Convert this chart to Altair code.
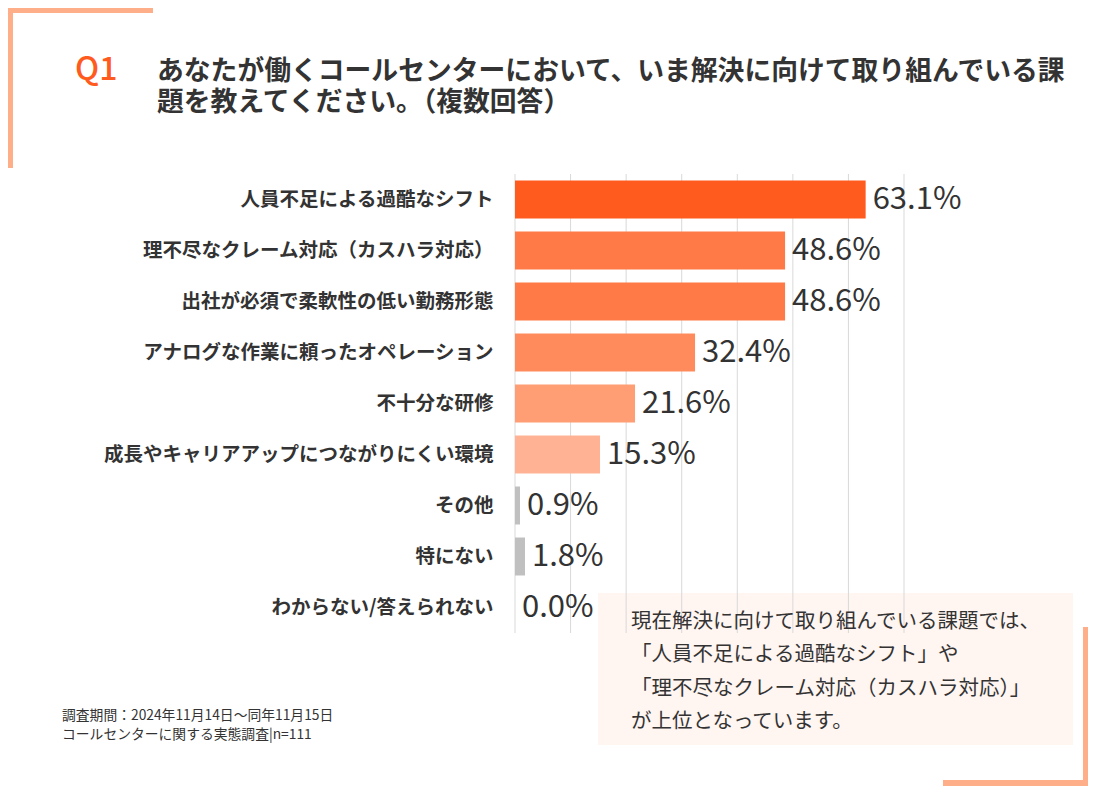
import altair as alt
import pandas as pd

# ---------------- data ----------------
categories = [
    "人員不足による過酷なシフト",
    "理不尽なクレーム対応（カスハラ対応）",
    "出社が必須で柔軟性の低い勤務形態",
    "アナログな作業に頼ったオペレーション",
    "不十分な研修",
    "成長やキャリアアップにつながりにくい環境",
    "その他",
    "特にない",
    "わからない/答えられない",
]
values = [63.1, 48.6, 48.6, 32.4, 21.6, 15.3, 0.9, 1.8, 0.0]
bar_colors = ["#FF5B1F", "#FF7A47", "#FF7A47", "#FF8B5C", "#FF9D75", "#FFB394",
              "#C0C0C0", "#C0C0C0", "#C0C0C0"]
grid_ticks = [0, 10, 20, 30, 40, 50, 60, 70]

title_q = "Q1"
question_lines = [
    "あなたが働くコールセンターにおいて、いま解決に向けて取り組んでいる課",
    "題を教えてください。（複数回答）",
]
note_lines = [
    "現在解決に向けて取り組んでいる課題では、",
    "「人員不足による過酷なシフト」や",
    "「理不尽なクレーム対応（カスハラ対応）」",
    "が上位となっています。",
]
footnote_lines = [
    "調査期間：2024年11月14日～同年11月15日",
    "コールセンターに関する実態調査|n=111",
]

# ---------------- layout ----------------
FONT = "Noto Sans CJK JP"
TEXT = "#333333"
W, H = 389, 459          # plot area
OX, OY = 515, 174        # page position of plot origin


def px(x):
    return x - OX


def py(y):
    return y - OY


one = pd.DataFrame({"k": [0]})


def rect(x1, y1, x2, y2, color):
    return alt.Chart(one).mark_rect(color=color).encode(
        x=alt.value(px(x1)), x2=alt.value(px(x2)),
        y=alt.value(py(y1)), y2=alt.value(py(y2)),
    )


def label(txt, x, y, size, weight="normal", color=TEXT, baseline="middle"):
    return alt.Chart(one).mark_text(
        text=txt, align="left", baseline=baseline, font=FONT,
        fontSize=size, fontWeight=weight, color=color,
    ).encode(x=alt.value(px(x)), y=alt.value(py(y)))


ORANGE_LIGHT = "#FFAE8A"
decor = [
    rect(0, 0, 153, 13, ORANGE_LIGHT),
    rect(0, 0, 13, 168, ORANGE_LIGHT),
    rect(1083, 627, 1096, 794, ORANGE_LIGHT),
    rect(943, 780, 1096, 794, ORANGE_LIGHT),
    rect(598, 593, 1073, 745, "#FFF5F1"),
]

df = pd.DataFrame({"category": categories, "value": values})
grid_df = pd.DataFrame({"tick": grid_ticks})

y_enc = alt.Y(
    "category:N", sort=categories,
    scale=alt.Scale(paddingInner=0.255, paddingOuter=0.1275),
    axis=alt.Axis(title=None, domain=False, ticks=False, grid=False,
                  labelFont=FONT, labelFontSize=19.5, labelFontWeight="bold",
                  labelColor=TEXT, labelPadding=22, labelLimit=600),
)

grid = alt.Chart(grid_df).mark_rule(color="#D9D9D9", strokeWidth=1).encode(
    x=alt.X("tick:Q", axis=None, scale=alt.Scale(domain=[0, 70])),
    y=alt.value(0), y2=alt.value(H),
)

bars = alt.Chart(df).mark_bar().encode(
    x=alt.X("value:Q", axis=None, scale=alt.Scale(domain=[0, 70])),
    y=y_enc,
    color=alt.Color("category:N", scale=alt.Scale(domain=categories, range=bar_colors),
                    legend=None),
)

vals = alt.Chart(df).transform_calculate(
    lab="format(datum.value, '.1f') + '%'"
).mark_text(
    align="left", baseline="middle", dx=7, font=FONT, fontSize=31, color=TEXT,
).encode(
    x=alt.X("value:Q", axis=None, scale=alt.Scale(domain=[0, 70])),
    y=y_enc,
    text="lab:N",
)

texts = [
    label(title_q, 75, 80, 32, weight=500, color="#FF5B1F", baseline="alphabetic"),
    label(question_lines[0], 157, 72, 26.8, weight="bold"),
    label(question_lines[1], 157, 103, 26.8, weight="bold"),
]
for i, t in enumerate(note_lines):
    texts.append(label(t, 631, 622 + i * 33.3, 20.5))
for i, t in enumerate(footnote_lines):
    texts.append(label(t, 62, 716 + i * 19, 13.8))

chart = alt.layer(*decor, grid, bars, vals, *texts).properties(
    width=W, height=H,
    padding={"left": OX - 8, "top": OY - 8, "right": 1088 - OX - W, "bottom": 786 - OY - H},
    autosize=alt.AutoSizeParams(type="none"),
    background="white",
).configure_view(stroke=None)

chart.save("out.html", embed_options={"renderer": "svg", "actions": False})
